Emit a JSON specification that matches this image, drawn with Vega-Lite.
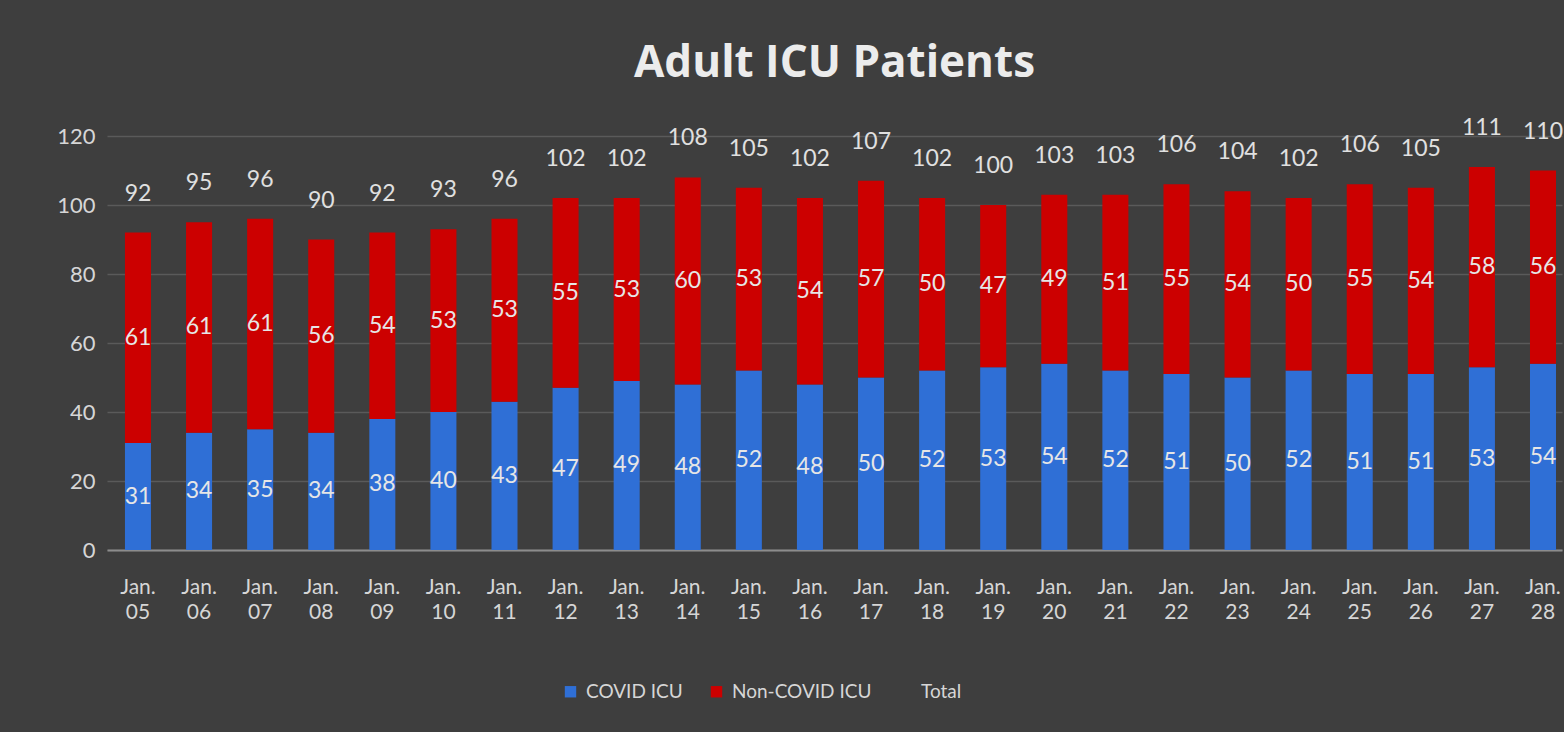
{
  "$schema": "https://vega.github.io/schema/vega-lite/v6.json",
  "width": 1455,
  "height": 414,
  "autosize": {"type": "none"},
  "padding": {"left": 107, "top": 136, "right": 2, "bottom": 182},
  "background": "#3e3e3e",
  "config": {
    "font": "Lato",
    "view": {"stroke": null},
    "axis": {"labelColor": "#d6d6d6", "labelFont": "Lato", "ticks": false, "title": null}
  },
  "title": {
    "text": "Adult ICU Patients",
    "fontSize": 44,
    "fontWeight": "bold",
    "color": "#ececec",
    "font": "Open Sans",
    "anchor": "middle",
    "offset": 31
  },
  "datasets": {
    "bars": [
      {"date": "Jan. 05", "series": "COVID ICU", "value": 31}, {"date": "Jan. 05", "series": "Non-COVID ICU", "value": 61},
      {"date": "Jan. 06", "series": "COVID ICU", "value": 34}, {"date": "Jan. 06", "series": "Non-COVID ICU", "value": 61},
      {"date": "Jan. 07", "series": "COVID ICU", "value": 35}, {"date": "Jan. 07", "series": "Non-COVID ICU", "value": 61},
      {"date": "Jan. 08", "series": "COVID ICU", "value": 34}, {"date": "Jan. 08", "series": "Non-COVID ICU", "value": 56},
      {"date": "Jan. 09", "series": "COVID ICU", "value": 38}, {"date": "Jan. 09", "series": "Non-COVID ICU", "value": 54},
      {"date": "Jan. 10", "series": "COVID ICU", "value": 40}, {"date": "Jan. 10", "series": "Non-COVID ICU", "value": 53},
      {"date": "Jan. 11", "series": "COVID ICU", "value": 43}, {"date": "Jan. 11", "series": "Non-COVID ICU", "value": 53},
      {"date": "Jan. 12", "series": "COVID ICU", "value": 47}, {"date": "Jan. 12", "series": "Non-COVID ICU", "value": 55},
      {"date": "Jan. 13", "series": "COVID ICU", "value": 49}, {"date": "Jan. 13", "series": "Non-COVID ICU", "value": 53},
      {"date": "Jan. 14", "series": "COVID ICU", "value": 48}, {"date": "Jan. 14", "series": "Non-COVID ICU", "value": 60},
      {"date": "Jan. 15", "series": "COVID ICU", "value": 52}, {"date": "Jan. 15", "series": "Non-COVID ICU", "value": 53},
      {"date": "Jan. 16", "series": "COVID ICU", "value": 48}, {"date": "Jan. 16", "series": "Non-COVID ICU", "value": 54},
      {"date": "Jan. 17", "series": "COVID ICU", "value": 50}, {"date": "Jan. 17", "series": "Non-COVID ICU", "value": 57},
      {"date": "Jan. 18", "series": "COVID ICU", "value": 52}, {"date": "Jan. 18", "series": "Non-COVID ICU", "value": 50},
      {"date": "Jan. 19", "series": "COVID ICU", "value": 53}, {"date": "Jan. 19", "series": "Non-COVID ICU", "value": 47},
      {"date": "Jan. 20", "series": "COVID ICU", "value": 54}, {"date": "Jan. 20", "series": "Non-COVID ICU", "value": 49},
      {"date": "Jan. 21", "series": "COVID ICU", "value": 52}, {"date": "Jan. 21", "series": "Non-COVID ICU", "value": 51},
      {"date": "Jan. 22", "series": "COVID ICU", "value": 51}, {"date": "Jan. 22", "series": "Non-COVID ICU", "value": 55},
      {"date": "Jan. 23", "series": "COVID ICU", "value": 50}, {"date": "Jan. 23", "series": "Non-COVID ICU", "value": 54},
      {"date": "Jan. 24", "series": "COVID ICU", "value": 52}, {"date": "Jan. 24", "series": "Non-COVID ICU", "value": 50},
      {"date": "Jan. 25", "series": "COVID ICU", "value": 51}, {"date": "Jan. 25", "series": "Non-COVID ICU", "value": 55},
      {"date": "Jan. 26", "series": "COVID ICU", "value": 51}, {"date": "Jan. 26", "series": "Non-COVID ICU", "value": 54},
      {"date": "Jan. 27", "series": "COVID ICU", "value": 53}, {"date": "Jan. 27", "series": "Non-COVID ICU", "value": 58},
      {"date": "Jan. 28", "series": "COVID ICU", "value": 54}, {"date": "Jan. 28", "series": "Non-COVID ICU", "value": 56}
    ],
    "totals": [
      {"date": "Jan. 05", "total": 92}, {"date": "Jan. 06", "total": 95}, {"date": "Jan. 07", "total": 96},
      {"date": "Jan. 08", "total": 90}, {"date": "Jan. 09", "total": 92}, {"date": "Jan. 10", "total": 93},
      {"date": "Jan. 11", "total": 96}, {"date": "Jan. 12", "total": 102}, {"date": "Jan. 13", "total": 102},
      {"date": "Jan. 14", "total": 108}, {"date": "Jan. 15", "total": 105}, {"date": "Jan. 16", "total": 102},
      {"date": "Jan. 17", "total": 107}, {"date": "Jan. 18", "total": 102}, {"date": "Jan. 19", "total": 100},
      {"date": "Jan. 20", "total": 103}, {"date": "Jan. 21", "total": 103}, {"date": "Jan. 22", "total": 106},
      {"date": "Jan. 23", "total": 104}, {"date": "Jan. 24", "total": 102}, {"date": "Jan. 25", "total": 106},
      {"date": "Jan. 26", "total": 105}, {"date": "Jan. 27", "total": 111}, {"date": "Jan. 28", "total": 110}
    ]
  },
  "encoding": {
    "x": {
      "field": "date",
      "type": "nominal",
      "sort": null,
      "scale": {"paddingInner": 0.574, "paddingOuter": 0.196, "align": 0.75},
      "axis": {
        "labelAngle": 0,
        "labelExpr": "split(datum.label, ' ')",
        "labelFontSize": 21,
        "labelLineHeight": 25,
        "labelPadding": 26,
        "domainColor": "#8c8c8c",
        "domainWidth": 2,
        "grid": false
      }
    }
  },
  "layer": [
    {
      "data": {"name": "bars"},
      "transform": [
        {"stack": "value", "groupby": ["date"], "sort": [{"field": "series", "order": "ascending"}], "as": ["v0", "v1"]}
      ],
      "mark": {"type": "bar"},
      "encoding": {
        "y": {
          "field": "v0",
          "type": "quantitative",
          "scale": {"domain": [0, 120]},
          "axis": {
            "values": [0, 20, 40, 60, 80, 100, 120],
            "labelFontSize": 22,
            "labelPadding": 12,
            "domain": false,
            "gridColor": "#5a5a5a",
            "gridWidth": 1.5
          }
        },
        "y2": {"field": "v1"},
        "color": {
          "field": "series",
          "type": "nominal",
          "scale": {
            "domain": ["COVID ICU", "Non-COVID ICU", "Total"],
            "range": ["#2f6fd6", "#cc0000", "rgba(0,0,0,0)"]
          },
          "legend": {
            "orient": "none",
            "legendX": 454,
            "legendY": 546,
            "direction": "horizontal",
            "title": null,
            "symbolType": "square",
            "symbolSize": 130,
            "symbolStrokeWidth": 0,
            "labelFontSize": 19,
            "labelColor": "#d6d6d6",
            "labelFont": "Lato",
            "columnPadding": 24,
            "labelOffset": 6
          }
        }
      }
    },
    {
      "data": {"name": "bars"},
      "transform": [
        {"stack": "value", "groupby": ["date"], "sort": [{"field": "series", "order": "ascending"}], "as": ["v0", "v1"]},
        {"calculate": "(datum.v0 + datum.v1) / 2", "as": "mid"}
      ],
      "mark": {"type": "text", "fontSize": 23, "color": "#e6e6e6", "font": "Lato"},
      "encoding": {
        "y": {"field": "mid", "type": "quantitative"},
        "text": {"field": "value", "type": "quantitative"}
      }
    },
    {
      "data": {"name": "totals"},
      "mark": {"type": "text", "fontSize": 23, "color": "#e0e0e0", "font": "Lato", "baseline": "bottom", "dy": -27},
      "encoding": {
        "y": {"field": "total", "type": "quantitative"},
        "text": {"field": "total", "type": "quantitative"}
      }
    }
  ]
}
